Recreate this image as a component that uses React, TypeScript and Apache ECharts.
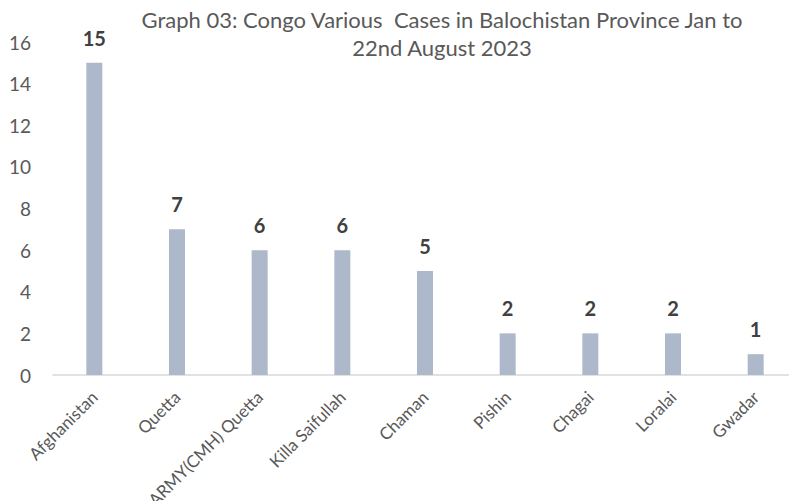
import React, { useEffect, useRef } from "react";
import * as echarts from "echarts";

const categories = [
  "Afghanistan",
  "Quetta",
  "ARMY(CMH) Quetta",
  "Killa Saifullah",
  "Chaman",
  "Pishin",
  "Chagai",
  "Loralai",
  "Gwadar",
];
const cases = [15, 7, 6, 6, 5, 2, 2, 2, 1];
const titleText = "Graph 03: Congo Various  Cases in Balochistan Province Jan to\n22nd August 2023";
const yMin = 0;
const yMax = 16;
const yInterval = 2;

export default function App() {
  const ref = useRef<HTMLDivElement>(null);
  useEffect(() => {
    if (!ref.current) return;
    const chart = echarts.init(ref.current, undefined, { renderer: "svg" });
    const font = "Lato, 'Open Sans', sans-serif";
    chart.setOption({
      animation: false,
      backgroundColor: "#ffffff",
      title: {
        text: titleText,
        left: 437,
        top: 0,
        textAlign: "center",
        textStyle: {
          fontFamily: font,
          fontSize: 22,
          fontWeight: "normal",
          color: "#595959",
          lineHeight: 28,
        },
      },
      grid: {
        left: 53,
        top: 42,
        bottom: 126,
        width: 744,
        containLabel: false,
        outerBoundsMode: "none",
      },
      xAxis: {
        type: "category",
        data: categories,
        axisLine: { show: true, lineStyle: { color: "#D9D9D9", width: 1.5 } },
        axisTick: { show: false },
        axisLabel: {
          interval: 0,
          rotate: 45,
          margin: 19,
          fontFamily: font,
          fontSize: 17,
          color: "#595959",
        },
      },
      yAxis: {
        type: "value",
        min: yMin,
        max: yMax,
        interval: yInterval,
        axisLine: { show: false },
        axisTick: { show: false },
        splitLine: { show: false },
        axisLabel: {
          margin: 22,
          fontFamily: font,
          fontSize: 19,
          color: "#595959",
        },
      },
      series: [
        {
          type: "bar",
          data: cases,
          barWidth: 16,
          itemStyle: { color: "#ADB9CA" },
          label: {
            show: true,
            position: "top",
            distance: 15,
            fontFamily: font,
            fontSize: 20,
            fontWeight: "bold",
            color: "#404040",
          },
        },
      ],
    });
    return () => chart.dispose();
  }, []);
  return (
    <div
      ref={ref}
      style={{ position: "fixed", left: 0, top: 0, width: 789, height: 501 }}
    />
  );
}
